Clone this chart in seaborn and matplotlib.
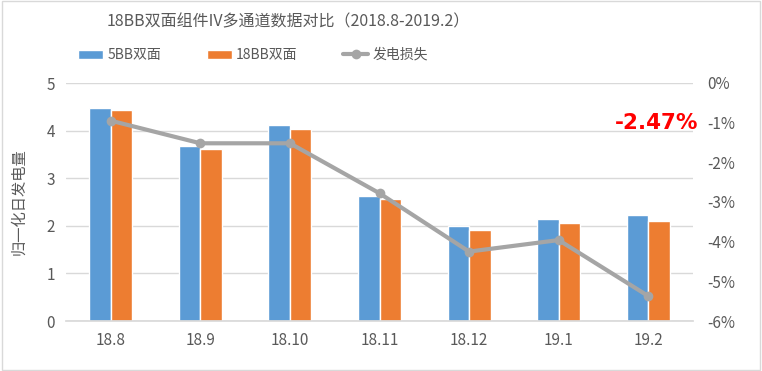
import matplotlib
matplotlib.use("Agg")
import matplotlib.pyplot as plt
import seaborn as sns
import pandas as pd
import numpy as np
from matplotlib.ticker import PercentFormatter

months = ["18.8", "18.9", "18.10", "18.11", "18.12", "19.1", "19.2"]
bb5 = [4.48, 3.68, 4.12, 2.62, 2.00, 2.14, 2.23]
bb18 = [4.43, 3.61, 4.04, 2.56, 1.91, 2.06, 2.10]
loss = [-0.95, -1.52, -1.52, -2.78, -4.25, -3.96, -5.37]

sns.set_theme(style="white")
plt.rcParams['font.family'] = ['Noto Sans CJK SC', 'DejaVu Sans']
plt.rcParams['axes.unicode_minus'] = False

txt = "#595959"
df = pd.DataFrame({
    "month": months * 2,
    "value": bb5 + bb18,
    "series": ["5BB双面"] * 7 + ["18BB双面"] * 7,
})

fig = plt.figure(figsize=(7.62, 3.71), dpi=100)
ax = fig.add_axes([66 / 762, 1 - 321 / 371, 627 / 762, 238 / 371])
sns.barplot(data=df, x="month", y="value", hue="series", order=months,
            palette=["#5B9BD5", "#ED7D31"], width=0.48, gap=0,
            saturation=1, ax=ax, legend=True)
ax.set_xlim(-0.5, 6.5)
ax.set_ylim(0, 5)
ax.set_yticks(range(6))
ax.yaxis.grid(True, color="#D9D9D9", linewidth=1)
ax.set_axisbelow(True)
ax.set_xlabel("")
ax.set_ylabel("归一化日发电量", color=txt, fontsize=11, labelpad=14)
ax.tick_params(axis="both", colors=txt, labelsize=11, length=0, pad=8)
for s in ["top", "right", "left"]:
    ax.spines[s].set_visible(False)
ax.spines["bottom"].set_color("#D9D9D9")
h1, l1 = ax.get_legend_handles_labels()
ax.get_legend().remove()

ax2 = ax.twinx()
sns.lineplot(x=np.arange(len(months)), y=loss, ax=ax2, color="#A5A5A5",
             linewidth=3, marker="o", markersize=7, markeredgewidth=0,
             label="发电损失", legend=False)
ax2.set_ylim(-6, 0)
ax2.set_yticks(range(-6, 1))
ax2.yaxis.set_major_formatter(PercentFormatter(decimals=0))
ax2.tick_params(axis="y", colors=txt, labelsize=11, length=0, pad=10)
for s in ax2.spines.values():
    s.set_visible(False)
h2, l2 = ax2.get_legend_handles_labels()

ax2.text(6.56, -1.0, "-2.47%", color="#FF0000", fontsize=15.5,
         fontweight="bold", ha="right", va="center", family="DejaVu Sans")

fig.legend(h1 + h2, l1 + l2, loc="center", bbox_to_anchor=(253 / 762, 1 - 55 / 371),
           ncol=3, frameon=False, fontsize=10, labelcolor=txt,
           handlelength=1.8, handleheight=0.6, columnspacing=3.3, handletextpad=0.3)

fig.suptitle("18BB双面组件IV多通道数据对比（2018.8-2019.2）", x=288 / 762,
             y=1 - 22 / 371, va="center", fontsize=11.5, color=txt)

fig.patches.append(plt.Rectangle((0.002, 0.003), 0.996, 0.994, transform=fig.transFigure,
                                 fill=False, edgecolor="#D9D9D9", linewidth=1))
fig.savefig("out.png", dpi=100)
